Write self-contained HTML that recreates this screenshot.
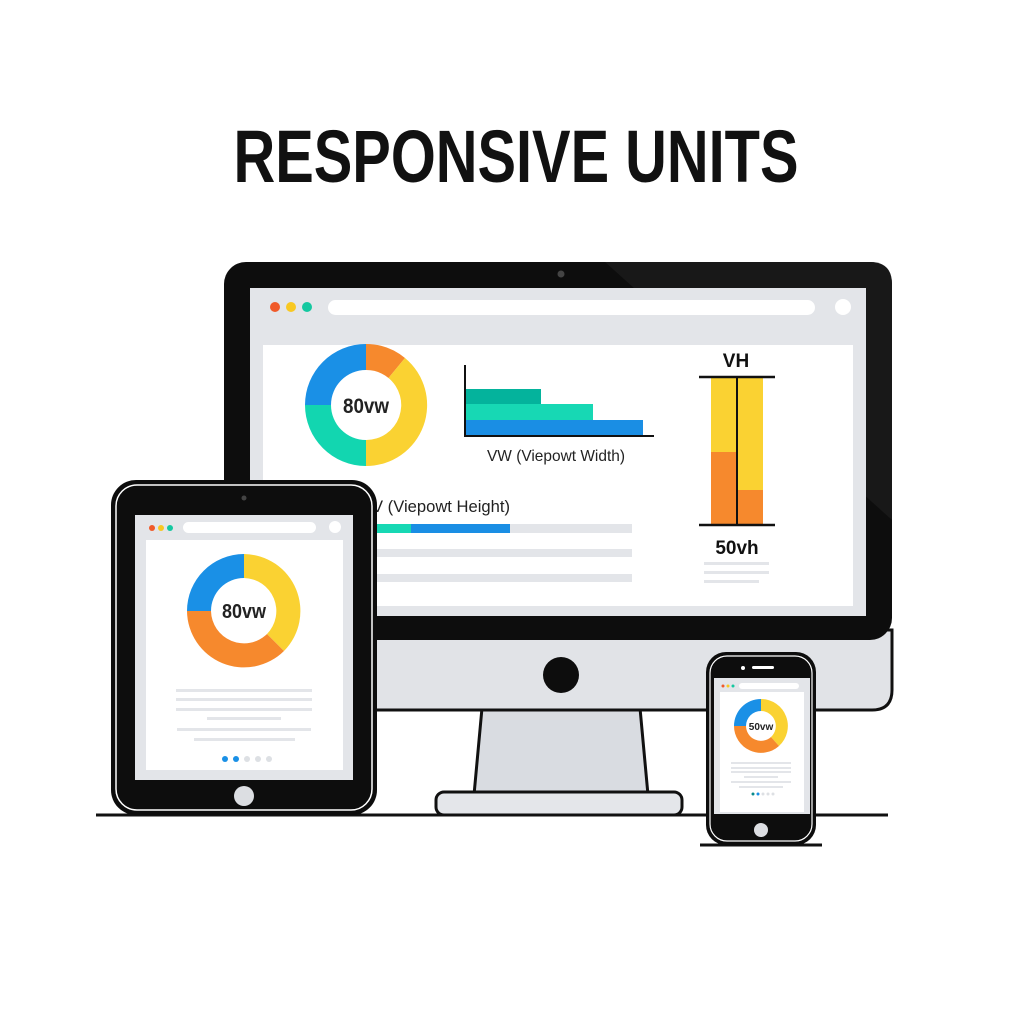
<!DOCTYPE html>
<html><head><style>html,body{margin:0;padding:0;background:#fff;}svg{display:block}</style></head>
<body>
<svg width="1024" height="1024" viewBox="0 0 1024 1024" xmlns="http://www.w3.org/2000/svg" font-family="Liberation Sans, sans-serif">
<rect width="1024" height="1024" fill="#fff"/>
<text x="516" y="182" text-anchor="middle" font-size="74" font-weight="bold" textLength="565" lengthAdjust="spacingAndGlyphs" fill="#111">RESPONSIVE UNITS</text>

<!-- Monitor stand -->
<path d="M482 708 L640 708 L648 795 L474 795 Z" fill="#d9dce1" stroke="#111" stroke-width="3"/>
<rect x="436" y="792" width="246" height="23" rx="8" fill="#e4e6ea" stroke="#111" stroke-width="3"/>
<!-- Monitor -->
<path d="M224 630 L892 630 L892 690 Q892 710 872 710 L244 710 Q224 710 224 690 Z" fill="#e1e3e7" stroke="#111" stroke-width="3"/>
<rect x="224" y="262" width="668" height="378" rx="22" fill="#0d0d0d"/>
<path d="M605 262 L870 262 Q892 262 892 284 L892 520 Z" fill="#181818"/>
<circle cx="561" cy="274" r="3.5" fill="#444"/>
<circle cx="561" cy="675" r="18" fill="#0d0d0d"/>
<rect x="250" y="288" width="616" height="328" fill="#e3e5e9"/>
<rect x="263" y="345" width="590" height="261" fill="#fff"/>
<circle cx="275" cy="307" r="5" fill="#f05a2a"/><circle cx="291" cy="307" r="5" fill="#f8c822"/><circle cx="307" cy="307" r="5" fill="#14c8a0"/>
<rect x="328" y="300" width="487" height="15" rx="7.5" fill="#fff"/>
<circle cx="843" cy="307" r="8" fill="#fff"/>
<!-- monitor donut -->
<g transform="translate(366,405)">
<path d="M-61 0 A61 61 0 0 1 0 -61 L0 -35 A35 35 0 0 0 -35 0 Z" fill="#1a90e6"/>
<path d="M0 -61 A61 61 0 0 1 39 -47 L22.5 -27 A35 35 0 0 0 0 -35 Z" fill="#f6892d"/>
<path d="M39 -47 A61 61 0 0 1 0 61 L0 35 A35 35 0 0 0 22.5 -27 Z" fill="#fad232"/>
<path d="M0 61 A61 61 0 0 1 -61 0 L-35 0 A35 35 0 0 0 0 35 Z" fill="#12d6b0"/>
<text x="0" y="8" text-anchor="middle" font-size="21" font-weight="bold" fill="#222" textLength="46" lengthAdjust="spacingAndGlyphs">80vw</text>
</g>
<!-- bar chart -->
<rect x="466" y="389" width="75" height="15" fill="#04b39c"/>
<rect x="466" y="404" width="127" height="16" fill="#17d8b4"/>
<rect x="466" y="420" width="177" height="15" fill="#1a8ee4"/>
<path d="M465 365 L465 436 L654 436" fill="none" stroke="#111" stroke-width="2"/>
<text x="556" y="461" text-anchor="middle" font-size="16" fill="#222" textLength="138" lengthAdjust="spacingAndGlyphs">VW (Viepowt Width)</text>
<!-- VH -->
<text x="736" y="367" text-anchor="middle" font-size="19" font-weight="bold" fill="#111">VH</text>
<rect x="711" y="378" width="26" height="74" fill="#fad232"/><rect x="711" y="452" width="26" height="73" fill="#f6892d"/>
<rect x="737" y="378" width="26" height="112" fill="#fad232"/><rect x="737" y="490" width="26" height="35" fill="#f6892d"/>
<line x1="699" y1="377" x2="775" y2="377" stroke="#111" stroke-width="2.5"/>
<line x1="699" y1="525" x2="775" y2="525" stroke="#111" stroke-width="2.5"/>
<line x1="737" y1="377" x2="737" y2="525" stroke="#111" stroke-width="2"/>
<text x="737" y="554" text-anchor="middle" font-size="19" font-weight="bold" fill="#111">50vh</text>
<rect x="704" y="562" width="65" height="3" fill="#e3e5e9"/><rect x="704" y="571" width="65" height="3" fill="#e3e5e9"/><rect x="704" y="580" width="55" height="3" fill="#e3e5e9"/>
<!-- height section -->
<text x="372" y="512" font-size="17" fill="#222" textLength="138" lengthAdjust="spacingAndGlyphs">V (Viepowt Height)</text>
<rect x="360" y="524" width="272" height="9" fill="#e3e5e9"/>
<rect x="360" y="524" width="51" height="9" fill="#17d8b4"/><rect x="411" y="524" width="99" height="9" fill="#1a8ee4"/>
<rect x="360" y="549" width="272" height="8" fill="#e3e5e9"/>
<rect x="360" y="574" width="272" height="8" fill="#e3e5e9"/>

<!-- ground line -->
<line x1="96" y1="815" x2="888" y2="815" stroke="#111" stroke-width="3"/>

<!-- Tablet -->
<rect x="111" y="480" width="266" height="335" rx="25" fill="#0d0d0d"/>
<rect x="116" y="485" width="256" height="325" rx="21" fill="none" stroke="#fff" stroke-width="1.5"/>
<circle cx="244" cy="498" r="2.5" fill="#444"/>
<rect x="135" y="515" width="218" height="265" fill="#e3e5e9"/>
<rect x="146" y="540" width="197" height="230" fill="#fff"/>
<circle cx="152" cy="528" r="3" fill="#f05a2a"/><circle cx="161" cy="528" r="3" fill="#f8c822"/><circle cx="170" cy="528" r="3" fill="#14c8a0"/>
<rect x="183" y="522" width="133" height="11" rx="5.5" fill="#fff"/>
<circle cx="335" cy="527" r="6" fill="#fff"/>
<g transform="translate(244,611)">
<path d="M-57 0 A57 57 0 0 1 0 -57 L0 -33 A33 33 0 0 0 -33 0 Z" fill="#1a90e6"/>
<path d="M0 -57 A57 57 0 0 1 40 40 L23 23 A33 33 0 0 0 0 -33 Z" fill="#fad232"/>
<path d="M40 40 A57 57 0 0 1 -57 0 L-33 0 A33 33 0 0 0 23 23 Z" fill="#f6892d"/>
<text x="0" y="7" text-anchor="middle" font-size="20" font-weight="bold" fill="#222" textLength="44" lengthAdjust="spacingAndGlyphs">80vw</text>
</g>
<rect x="176" y="689" width="136" height="3" fill="#e3e5e9"/><rect x="176" y="698" width="136" height="3" fill="#e3e5e9"/><rect x="176" y="708" width="136" height="3" fill="#e3e5e9"/>
<rect x="207" y="717" width="74" height="3" fill="#e3e5e9"/><rect x="177" y="728" width="134" height="3" fill="#e3e5e9"/><rect x="194" y="738" width="101" height="3" fill="#e3e5e9"/>
<circle cx="225" cy="759" r="3" fill="#1a90e6"/><circle cx="236" cy="759" r="3" fill="#1a90e6"/><circle cx="247" cy="759" r="3" fill="#dde0e4"/><circle cx="258" cy="759" r="3" fill="#dde0e4"/><circle cx="269" cy="759" r="3" fill="#dde0e4"/>
<circle cx="244" cy="796" r="10" fill="#dcdee2"/>

<!-- Phone -->
<line x1="700" y1="845" x2="822" y2="845" stroke="#111" stroke-width="3"/>
<rect x="706" y="652" width="110" height="193" rx="20" fill="#0d0d0d"/>
<rect x="710" y="656" width="102" height="185" rx="17" fill="none" stroke="#fff" stroke-width="1.2"/>
<circle cx="743" cy="668" r="2" fill="#fff"/><rect x="752" y="666" width="22" height="3" rx="1.5" fill="#fff"/>
<rect x="714" y="678" width="96" height="136" fill="#e3e5e9"/>
<rect x="720" y="692" width="84" height="120" fill="#fff"/>
<circle cx="723" cy="686" r="1.5" fill="#f05a2a"/><circle cx="728" cy="686" r="1.5" fill="#f8c822"/><circle cx="733" cy="686" r="1.5" fill="#14c8a0"/>
<rect x="739" y="683" width="60" height="6" rx="3" fill="#fff"/>
<g transform="translate(761,726)">
<path d="M-27 0 A27 27 0 0 1 0 -27 L0 -15 A15 15 0 0 0 -15 0 Z" fill="#1a90e6"/>
<path d="M0 -27 A27 27 0 0 1 18 20 L10 11 A15 15 0 0 0 0 -15 Z" fill="#fad232"/>
<path d="M18 20 A27 27 0 0 1 -27 0 L-15 0 A15 15 0 0 0 10 11 Z" fill="#f6892d"/>
<text x="0" y="4" text-anchor="middle" font-size="10" font-weight="bold" fill="#222">50vw</text>
</g>
<rect x="731" y="762" width="60" height="2" fill="#e3e5e9"/><rect x="731" y="767" width="60" height="2" fill="#e3e5e9"/><rect x="731" y="771" width="60" height="2" fill="#e3e5e9"/>
<rect x="744" y="776" width="34" height="2" fill="#e3e5e9"/><rect x="731" y="781" width="60" height="2" fill="#e3e5e9"/><rect x="739" y="786" width="44" height="2" fill="#e3e5e9"/>
<circle cx="753" cy="794" r="1.5" fill="#0a8a8a"/><circle cx="758" cy="794" r="1.5" fill="#1a90e6"/><circle cx="763" cy="794" r="1.5" fill="#dde0e4"/><circle cx="768" cy="794" r="1.5" fill="#dde0e4"/><circle cx="773" cy="794" r="1.5" fill="#dde0e4"/>
<circle cx="761" cy="830" r="7" fill="#dcdee2"/>
</svg>
</body></html>
